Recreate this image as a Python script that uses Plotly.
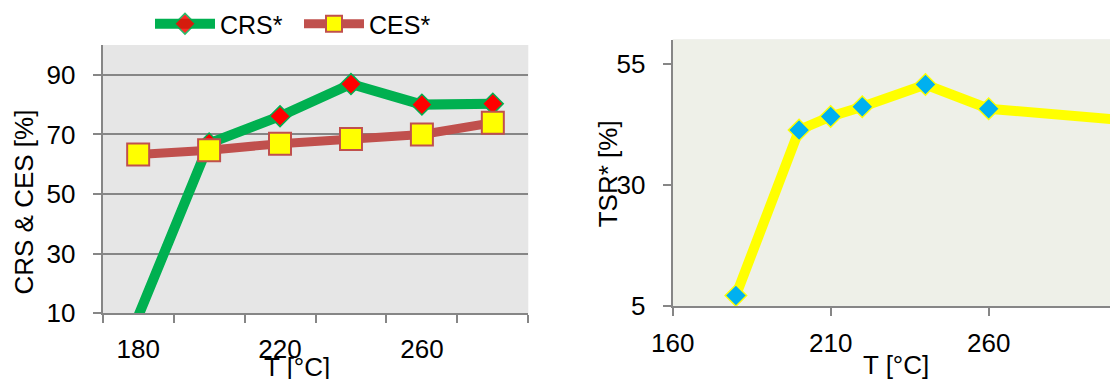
import plotly.graph_objects as go

# Temperature series (°C)
temps_left = [180, 200, 220, 240, 260, 280]
crs = [9, 67, 76.1, 86.9, 80.0, 80.3]
ces = [63.3, 64.7, 66.9, 68.5, 70.0, 73.9]

temps_right = [180, 200, 210, 220, 240, 260, 300]
tsr = [7.1, 41.3, 44.1, 46.1, 50.7, 45.7, 43.5]

left_y_ticks = [10, 30, 50, 70, 90]
left_x_labels = [180, 220, 260]
left_x_bounds = [170, 190, 210, 230, 250, 270, 290]
right_x_ticks = [160, 210, 260, 310]
right_y_ticks = [5, 30, 55]

W, H = 1110, 379
FONT = "Liberation Sans, Arial, sans-serif"
AXIS_GREY = "#868686"


def px_x(p):
    return p / W


def px_y(p):
    return 1 - p / H


LEFT_YMIN = 10
crs_opacity = [1 if v >= LEFT_YMIN else 0 for v in crs]

fig = go.Figure()

fig.add_trace(go.Scatter(
    x=temps_left, y=crs, name="CRS*", mode="lines+markers",
    line=dict(color="#00b050", width=10),
    marker=dict(symbol="diamond", size=16, color="#ff0000", opacity=crs_opacity,
                line=dict(color="#00b050", width=1.5)),
    xaxis="x", yaxis="y",
))
fig.add_trace(go.Scatter(
    x=temps_left, y=ces, name="CES*", mode="lines+markers",
    line=dict(color="#c0504d", width=9),
    marker=dict(symbol="square", size=22, color="#ffff00",
                line=dict(color="#c0504d", width=2)),
    xaxis="x", yaxis="y",
))
fig.add_trace(go.Scatter(
    x=temps_right, y=tsr, name="TSR*", mode="lines+markers", showlegend=False,
    line=dict(color="#ffff00", width=10),
    marker=dict(symbol="diamond", size=16.5, color="#00b0f0",
                line=dict(color="#ffff00", width=1.5)),
    cliponaxis=False,
    xaxis="x2", yaxis="y2",
))

tick_font = dict(family=FONT, size=26, color="#000000")

fig.update_layout(
    width=W, height=H,
    margin=dict(l=0, r=0, t=0, b=0, autoexpand=False),
    paper_bgcolor="#ffffff",
    plot_bgcolor="#e6e6e6",
    font=dict(family=FONT, size=25, color="#000000"),
    showlegend=True,
    legend=dict(
        orientation="h", x=px_x(150), xanchor="left", y=px_y(1), yanchor="top",
        font=dict(family=FONT, size=25, color="#000000"),
        itemwidth=60, entrywidth=74, entrywidthmode="pixels",
        bgcolor="rgba(0,0,0,0)", tracegroupgap=0,
    ),
    xaxis=dict(
        domain=[px_x(102.7), px_x(528.3)], range=[170, 290],
        anchor="y", tickmode="array", tickvals=left_x_labels, automargin=False,
        ticks="", showgrid=False, zeroline=False,
        showline=True, linecolor=AXIS_GREY, linewidth=2,
        tickfont=tick_font, ticklabelstandoff=11,
        minor=dict(tickmode="array", tickvals=left_x_bounds, ticks="outside",
                   ticklen=8, tickwidth=2, tickcolor=AXIS_GREY, showgrid=False),
    ),
    yaxis=dict(
        domain=[px_y(313.3), px_y(45)], range=[10, 100],
        anchor="x", tickmode="array", tickvals=left_y_ticks, automargin=False,
        ticks="outside", ticklen=8, tickwidth=2, tickcolor=AXIS_GREY,
        showgrid=True, gridcolor=AXIS_GREY, gridwidth=2, zeroline=False,
        showline=True, linecolor=AXIS_GREY, linewidth=2,
        tickfont=tick_font, ticklabelstandoff=12,
    ),
    xaxis2=dict(
        domain=[px_x(672.7), 1.0], range=[160, 298.4],
        anchor="y2", tickmode="array", tickvals=right_x_ticks, automargin=False,
        ticks="outside", ticklen=8, tickwidth=2, tickcolor=AXIS_GREY,
        showgrid=False, zeroline=False,
        showline=True, linecolor=AXIS_GREY, linewidth=2,
        tickfont=tick_font, ticklabelstandoff=5,
    ),
    yaxis2=dict(
        domain=[px_y(305.7), px_y(39.5)], range=[5, 60],
        anchor="x2", tickmode="array", tickvals=right_y_ticks, automargin=False,
        ticks="outside", ticklen=8, tickwidth=2, tickcolor=AXIS_GREY,
        showgrid=False, zeroline=False,
        showline=True, linecolor=AXIS_GREY, linewidth=2,
        tickfont=tick_font, ticklabelstandoff=12,
    ),
)

# Right panel background
fig.add_shape(
    type="rect", xref="x2 domain", yref="y2 domain",
    x0=0, x1=1, y0=0, y1=1, fillcolor="#eef0e8", line_width=0, layer="below",
)

title_font = dict(family=FONT, size=26, color="#000000")
fig.add_annotation(text="CRS &amp; CES [%]", xref="paper", yref="paper",
                   x=px_x(23), y=px_y(202.5), textangle=-90, showarrow=False,
                   xanchor="center", yanchor="middle", font=title_font)
fig.add_annotation(text="T [°C]", xref="paper", yref="paper",
                   x=px_x(296.7), y=px_y(367), showarrow=False,
                   xanchor="center", yanchor="middle", font=title_font)
fig.add_annotation(text="TSR* [%]", xref="paper", yref="paper",
                   x=px_x(608.3), y=px_y(174), textangle=-90, showarrow=False,
                   xanchor="center", yanchor="middle", font=title_font)
fig.add_annotation(text="T [°C]", xref="paper", yref="paper",
                   x=px_x(895.5), y=px_y(365), showarrow=False,
                   xanchor="center", yanchor="middle", font=title_font)

fig.write_html("out.html")
